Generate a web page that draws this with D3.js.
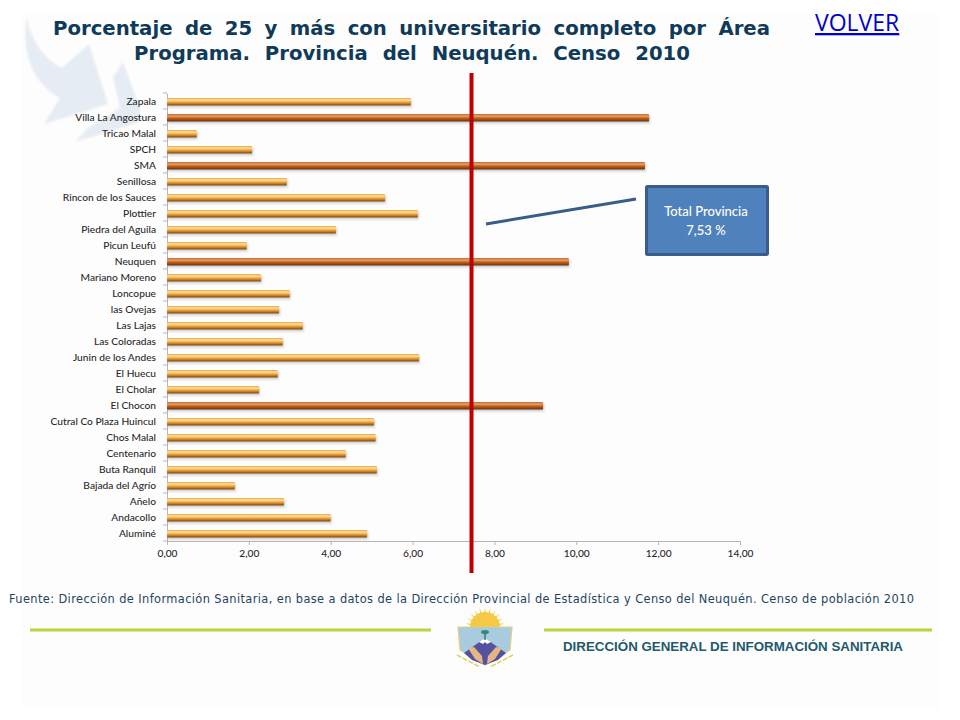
<!DOCTYPE html>
<html>
<head>
<meta charset="utf-8">
<script src="https://cdn.jsdelivr.net/npm/d3@7"></script>
<style>
  html, body { margin: 0; padding: 0; background: #fff; }
  svg { display: block; }
</style>
</head>
<body>
<svg id="chart" width="960" height="720"></svg>
<script>
const areas = ['Zapala', 'Villa La Angostura', 'Tricao Malal', 'SPCH', 'SMA', 'Senillosa', 'Rincon de los Sauces',
    'Plottier', 'Piedra del Aguila', 'Picun Leufú', 'Neuquen', 'Mariano Moreno', 'Loncopue', 'las Ovejas', 'Las Lajas',
    'Las Coloradas', 'Junin de los Andes', 'El Huecu', 'El Cholar', 'El Chocon', 'Cutral Co Plaza Huincul', 'Chos Malal',
    'Centenario', 'Buta Ranquil', 'Bajada del Agrío', 'Añelo', 'Andacollo', 'Aluminé'];
const percentages = [5.96, 11.78, 0.73, 2.08, 11.68, 2.93, 5.33, 6.13, 4.13, 1.95, 9.82, 2.30, 3.00, 2.74, 3.32,
    2.83, 6.16, 2.71, 2.25, 9.19, 5.06, 5.10, 4.37, 5.13, 1.66, 2.86, 4.00, 4.89];
const xTicks = [0, 2, 4, 6, 8, 10, 12, 14];
const provinceTotal = 7.53;
const provinceLinePos = 7.44; // the hand drawn line sits a bit left of its real value

const svg = d3.select('#chart');
const fmt = d => d.toFixed(2).replace('.', ',');

const x = d3.scaleLinear().domain([0, 14]).range([167, 740]);
const y = d3.scaleBand().domain(areas).range([93, 541]);

// Gradients for the glossy bars
const defs = svg.append('defs');
function barGradient(id, stops) {
    const g = defs.append('linearGradient').attr('id', id).attr('x1', 0).attr('x2', 0).attr('y1', 0).attr('y2', 1);
    stops.forEach(s => g.append('stop').attr('offset', s[0]).attr('stop-color', s[1]));
}
barGradient('barLight', [[0, '#e8a444'], [0.28, '#fde29c'], [0.55, '#f0a640'], [0.8, '#b86e22'], [1, '#7a4512']]);
barGradient('barDark', [[0, '#c0662a'], [0.28, '#f0a064'], [0.55, '#c2621f'], [0.8, '#8f4814'], [1, '#5f2f0d']]);
defs.append('filter').attr('id', 'soft').append('feGaussianBlur').attr('stdDeviation', 1);

// Slightly off white slide background
svg.append('rect').attr('x', 22).attr('y', 14).attr('width', 918).attr('height', 694).attr('fill', '#fdfdfd');

// Faint bird watermark
const bird = svg.append('g').attr('fill', '#e6ecf3').attr('filter', 'url(#soft)');
bird.append('path').attr('d', 'M27,17 C30,40 45,60 62,68 L89,44 L108,104 L44,124 L60,98 C35,85 20,55 27,17 Z');
bird.append('path').attr('d', 'M123,62 L113,77 L120,108 L88,128 L75,142 L140,122 L140,108 Z');

// Title, the spare width goes into the word gaps
const title = svg.append('g').attr('font-family', '"DejaVu Sans", Verdana, sans-serif')
    .attr('font-weight', 'bold').attr('font-size', 19.7).attr('fill', '#0f3a5a');
function titleLine(str, left, right, base) {
    const t = title.append('text').attr('x', left).attr('y', base).text(str);
    const gaps = str.split(' ').length - 1;
    t.attr('word-spacing', (right - left - t.node().getComputedTextLength()) / gaps);
}
titleLine('Porcentaje de 25 y más con universitario completo por Área', 53, 770, 35);
titleLine('Programa. Provincia del Neuquén. Censo 2010', 134, 690, 60);

svg.append('text').attr('x', 815).attr('y', 31)
    .attr('font-family', '"Open Sans", sans-serif').attr('font-size', 23)
    .attr('fill', '#0000cc').attr('text-decoration', 'underline').text('VOLVER');

// Axes
const xAxis = svg.append('g').attr('transform', 'translate(0,541)')
    .call(d3.axisBottom(x).tickValues(xTicks).tickFormat(fmt).tickSize(4).tickPadding(5));
const yAxis = svg.append('g').attr('transform', 'translate(167,1)')
    .call(d3.axisLeft(y).tickSize(0).tickPadding(11));

[xAxis, yAxis].forEach(a => {
    a.selectAll('.domain').attr('stroke', '#b5b5b5');
    a.selectAll('.tick line').attr('stroke', '#b5b5b5');
    a.selectAll('text').attr('font-family', 'Lato, sans-serif').attr('font-size', 10.2)
        .attr('font-weight', 500).attr('fill', '#2a2a2a');
});
yAxis.select('.domain').attr('transform', 'translate(0,-1)');

// Small ticks between the categories
svg.append('g').selectAll('line').data(areas.concat(null)).join('line')
    .attr('x1', 163).attr('x2', 167)
    .attr('y1', (d, i) => 93 + i * y.step()).attr('y2', (d, i) => 93 + i * y.step())
    .attr('stroke', '#b5b5b5');

// Bars
const bars = svg.append('g');
bars.selectAll('rect.shadow').data(areas).join('rect')
    .attr('class', 'shadow')
    .attr('x', x(0) + 1).attr('y', d => y(d) + 6.5)
    .attr('width', (d, i) => x(percentages[i]) - x(0)).attr('height', 8)
    .attr('fill', '#000').attr('opacity', 0.18).attr('filter', 'url(#soft)');
bars.selectAll('rect.bar').data(areas).join('rect')
    .attr('class', 'bar')
    .attr('x', x(0)).attr('y', d => y(d) + 5)
    .attr('width', (d, i) => x(percentages[i]) - x(0)).attr('height', 7.5)
    .attr('rx', 1)
    .attr('fill', (d, i) => percentages[i] > provinceTotal ? 'url(#barDark)' : 'url(#barLight)');

// Province reference line
svg.append('line')
    .attr('x1', x(provinceLinePos)).attr('x2', x(provinceLinePos))
    .attr('y1', 73).attr('y2', 573)
    .attr('stroke', '#c00000').attr('stroke-width', 4);

// Callout
svg.append('line').attr('x1', 486).attr('y1', 224).attr('x2', 636).attr('y2', 199)
    .attr('stroke', '#385d8a').attr('stroke-width', 3);
svg.append('rect').attr('x', 646.5).attr('y', 186.5).attr('width', 121).attr('height', 68)
    .attr('fill', '#4f81bd').attr('stroke', '#385d8a').attr('stroke-width', 3).attr('rx', 1);
const callout = svg.append('g').attr('font-family', 'Lato, sans-serif').attr('font-size', 13)
    .attr('font-weight', 500).attr('fill', '#fff').attr('text-anchor', 'middle');
callout.append('text').attr('x', 706).attr('y', 216).text('Total Provincia');
callout.append('text').attr('x', 706).attr('y', 235).text(fmt(provinceTotal) + ' %');

// Source
svg.append('text').attr('x', 9).attr('y', 603)
    .attr('font-family', '"DejaVu Sans", Verdana, sans-serif').attr('font-size', 11.4)
    .attr('fill', '#1f4560').attr('textLength', 905).attr('lengthAdjust', 'spacing')
    .text('Fuente: Dirección de Información Sanitaria, en base a datos de la Dirección Provincial de Estadística y Censo del Neuquén. Censo de población 2010');

// Footer band
const footer = svg.append('g');
footer.append('line').attr('x1', 30).attr('x2', 431).attr('y1', 630).attr('y2', 630)
    .attr('stroke', '#bcd240').attr('stroke-width', 3);
footer.append('line').attr('x1', 544).attr('x2', 932).attr('y1', 630).attr('y2', 630)
    .attr('stroke', '#bcd240').attr('stroke-width', 3);
footer.append('text').attr('x', 563).attr('y', 650.5)
    .attr('font-family', '"Liberation Sans", Arial, sans-serif').attr('font-weight', 'bold').attr('font-size', 13.5)
    .attr('fill', '#1f5a6c').attr('textLength', 340).attr('lengthAdjust', 'spacingAndGlyphs')
    .text('DIRECCIÓN GENERAL DE INFORMACIÓN SANITARIA');

// Provincial shield
const shield = svg.append('g');
const sunRays = d3.range(-80, 81, 16).map(a => {
    const r = a * Math.PI / 180;
    return `M${485 + 8 * Math.sin(r - 0.2)},${627 - 8 * Math.cos(r - 0.2)} L${485 + 20 * Math.sin(r)},${627 - 20 * Math.cos(r)} L${485 + 8 * Math.sin(r + 0.2)},${627 - 8 * Math.cos(r + 0.2)} Z`;
}).join(' ');
shield.append('path').attr('d', sunRays).attr('fill', '#f6c945');
shield.append('path').attr('d', 'M470,627 A15,15 0 0 1 500,627 Z').attr('fill', '#f6c945');
shield.append('path').attr('d', 'M458,627 L512,627 L510,650 L485,665 L460,650 Z')
    .attr('fill', '#a9cbe0').attr('stroke', '#e3cf7a').attr('stroke-width', 1.2);
shield.append('path').attr('d', 'M464,653 L485,638 L506,653 L498,660 L485,665 L472,660 Z').attr('fill', '#54519e');
shield.append('path').attr('d', 'M479,642 L485,638 L491,642 L487,644 L485,642 L483,644 Z').attr('fill', '#fff');
shield.append('path').attr('d', 'M468,648 L474,647 L482,656 L483,664 L475,659 Z M502,648 L496,647 L488,656 L487,664 L495,659 Z').attr('fill', '#e6b784');
shield.append('line').attr('x1', 485).attr('x2', 485).attr('y1', 632).attr('y2', 640).attr('stroke', '#2f7a6a').attr('stroke-width', 1.5);
shield.append('ellipse').attr('cx', 485).attr('cy', 632).attr('rx', 4).attr('ry', 2).attr('fill', '#2f8a7a');
shield.append('path').attr('d', 'M457,655 L480,667 M513,655 L490,667').attr('stroke', '#e3cf5a').attr('stroke-width', 1.5).attr('stroke-dasharray', '5 1.5').attr('fill', 'none');
</script>
</body>
</html>
